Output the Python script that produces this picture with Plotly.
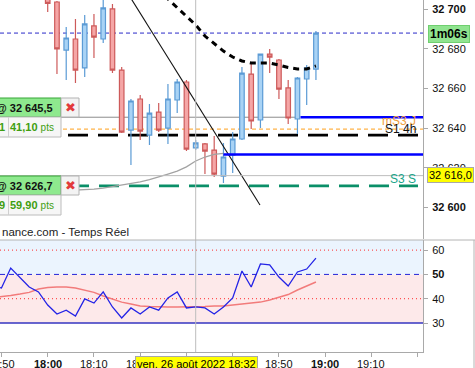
import plotly.graph_objects as go

W, H = 475, 368
def px(x): return x / W
def py(y): return 1 - y / H

# ---------------- data ----------------
candle_times = ["18:00", "18:02", "18:04", "18:06", "18:08", "18:10", "18:12", "18:14", "18:16", "18:18",
                "18:20", "18:22", "18:24", "18:26", "18:28", "18:30", "18:32", "18:34", "18:36", "18:38",
                "18:40", "18:42", "18:44", "18:46", "18:48", "18:50", "18:52", "18:54", "18:56", "18:58"]
opens  = [32708.0, 32703.7, 32679.4, 32685.0, 32670.4, 32691.6, 32685.0, 32700.2, 32669.3, 32639.0,
          32654.7, 32636.5, 32648.1, 32640.0, 32654.2, 32663.3, 32630.0, 32632.0, 32628.9, 32615.8,
          32626.4, 32634.5, 32667.3, 32644.1, 32677.4, 32674.4, 32660.3, 32644.6, 32664.8, 32669.8]
highs  = [32712.0, 32704.2, 32691.1, 32695.1, 32697.1, 32697.6, 32706.0, 32702.7, 32670.9, 32654.7,
          32656.7, 32652.2, 32652.7, 32662.3, 32664.8, 32664.3, 32634.0, 32632.5, 32636.0, 32632.5,
          32638.0, 32670.9, 32672.9, 32677.6, 32679.9, 32674.9, 32664.3, 32665.8, 32671.9, 32689.0]
lows   = [32698.6, 32667.3, 32664.3, 32662.8, 32665.8, 32675.4, 32683.0, 32667.8, 32637.5, 32621.4,
          32634.0, 32631.5, 32638.0, 32632.0, 32647.6, 32628.4, 32629.0, 32616.8, 32615.3, 32612.3,
          32617.3, 32634.0, 32639.5, 32640.0, 32667.8, 32654.7, 32642.1, 32637.0, 32651.7, 32664.3]
closes = [32703.0, 32680.0, 32685.5, 32669.3, 32692.6, 32686.0, 32700.7, 32669.3, 32638.0, 32653.7,
          32638.5, 32647.6, 32639.0, 32654.7, 32663.3, 32629.4, 32632.5, 32628.4, 32616.8, 32625.4,
          32634.5, 32667.8, 32643.6, 32677.4, 32675.9, 32659.7, 32645.1, 32665.3, 32670.4, 32688.0]

ma_times = ["18:20", "18:22", "18:24", "18:26", "18:28", "18:30", "18:32", "18:34", "18:36", "18:38",
            "18:40", "18:42", "18:44", "18:46", "18:48", "18:50", "18:52", "18:54", "18:56", "18:58"]
ma_values = [32718.0, 32713.5, 32709.2, 32705.2, 32700.7, 32696.4, 32692.1, 32686.5, 32682.5, 32678.9,
             32675.9, 32673.9, 32672.9, 32672.9, 32672.9, 32671.9, 32670.6, 32669.9, 32669.9, 32671.4]

band_times = ["18:00", "18:02", "18:04", "18:06", "18:08", "18:10", "18:12", "18:14", "18:16", "18:18",
              "18:20", "18:22", "18:24", "18:26", "18:28", "18:30", "18:32", "18:34", "18:36", "18:38"]
band_values = [32608.0, 32608.2, 32608.5, 32608.7, 32609.0, 32609.2, 32609.7, 32610.5, 32611.3, 32611.8,
               32612.8, 32614.0, 32615.3, 32616.8, 32618.3, 32620.4, 32623.4, 32625.4, 32626.7, 32627.2]

trend_times = ["18:16:00", "18:45:54"]
trend_values = [32713.0, 32601.2]

rsi_times = ["17:48", "17:50", "17:52", "17:54", "17:56", "17:58"] + candle_times
rsi_values = [45.6, 44.4, 52.6, 48.9, 44.8, 42.8, 37.4, 33.7, 35.3, 32.9, 39.9, 38.2, 42.8, 36.6, 32.1, 36.2,
              33.7, 36.6, 35.3, 40.3, 42.8, 36.2, 36.6, 36.2, 33.7, 36.6, 40.3, 51.4, 44.8, 54.3, 53.9,
              48.9, 45.2, 51.0, 52.2, 56.7]
rsi_ma = [40.5, 40.8, 41.3, 41.9, 42.6, 44.0, 44.6, 44.8, 44.8, 44.4, 43.6, 42.6, 41.1, 39.9, 38.6, 37.8,
          37.0, 36.8, 36.6, 36.6, 36.6, 36.6, 36.6, 36.8, 37.0, 37.0, 37.4, 37.8, 38.2, 38.6, 39.5,
          40.5, 41.7, 43.6, 45.2, 46.9]

LAST_PRICE = 32688.0
ORDER1 = 32645.5
ORDER2 = 32626.7
MS3_J = 32639.5
S1_4H = 32636.5
S3_S = 32610.8
CROSS_PRICE = 32616.0
CROSS_TIME = "18:32"
ORDER1_START = "18:54:40"
ORDER2_START = "18:38"

price_ticks = [32600, 32620, 32640, 32660, 32680, 32700]
price_labels = ["<b>32 600</b>", "32 620", "32 640", "32 660", "32 680", "<b>32 700</b>"]
rsi_ticks = [30, 40, 50, 60]
rsi_labels = ["30", "40", "<b>50</b>", "60"]
time_ticks = ["17:50", "18:00", "18:10", "18:20", "18:30", "18:40", "18:50", "19:00", "19:10", "19:20"]
time_labels = ["17:50", "<b>18:00</b>", "18:10", "18:20", "18:30", "18:40", "18:50", "<b>19:00</b>", "19:10", ""]

DAY = "2022-08-26 "
def T(s):
    return DAY + (s if s.count(":") == 2 else s + ":00")

X_RANGE = [T("17:49:41"), T("19:21:09")]
P_RANGE = [32584.0, 32704.7]
R_RANGE = [18.07, 64.16]
DOM_X = [0, 423 / W]
DOM_MAIN = [py(239), 1]
DOM_RSI = [py(352), py(240)]

FONT = "Liberation Sans, Arial, sans-serif"

fig = go.Figure()

fig.add_trace(go.Scatter(x=[T(t) for t in band_times], y=band_values, mode="lines",
                         line=dict(color="#a3a3a3", width=1.3), xaxis="x", yaxis="y", hoverinfo="skip"))
fig.add_trace(go.Candlestick(
    x=[T(t) for t in candle_times], open=opens, high=highs, low=lows, close=closes,
    increasing=dict(fillcolor="#a9d3f5", line=dict(color="#5b9bd5", width=1.2)),
    decreasing=dict(fillcolor="#f5a6a6", line=dict(color="#cd5a5a", width=1.2)),
    xaxis="x", yaxis="y", hoverinfo="skip"))
fig.add_trace(go.Scatter(x=[T(t) for t in ma_times], y=ma_values, mode="lines",
                         line=dict(color="#000000", width=3, dash="6px,5px"), xaxis="x", yaxis="y",
                         hoverinfo="skip"))
fig.add_trace(go.Scatter(x=[T(t) for t in trend_times], y=trend_values, mode="lines",
                         line=dict(color="#111111", width=1.1), xaxis="x", yaxis="y", hoverinfo="skip"))

fig.add_trace(go.Scatter(x=[T(t) for t in rsi_times], y=rsi_ma, mode="lines",
                         line=dict(color="#f27b7b", width=1.5), xaxis="x2", yaxis="y2", hoverinfo="skip"))
fig.add_trace(go.Scatter(x=[T(t) for t in rsi_times], y=rsi_values, mode="lines",
                         line=dict(color="#2323e6", width=1.3), xaxis="x2", yaxis="y2", hoverinfo="skip"))

shapes = []
# RSI panel backgrounds and levels
shapes += [
    dict(type="rect", xref="x2 domain", yref="y2", x0=0, x1=1, y0=50, y1=R_RANGE[1],
         fillcolor="#ebf4fe", line=dict(width=0), layer="below"),
    dict(type="rect", xref="x2 domain", yref="y2", x0=0, x1=1, y0=30, y1=50,
         fillcolor="#fde9ea", line=dict(width=0), layer="below"),
    dict(type="line", xref="x2 domain", yref="y2", x0=0, x1=1, y0=60, y1=60,
         line=dict(color="#ff2a2a", width=1, dash="1px,3px"), layer="below"),
    dict(type="line", xref="x2 domain", yref="y2", x0=0, x1=1, y0=40, y1=40,
         line=dict(color="#ff2a2a", width=1, dash="1px,3px"), layer="below"),
    dict(type="line", xref="x2 domain", yref="y2", x0=0, x1=1, y0=50, y1=50,
         line=dict(color="#2323d8", width=1, dash="5px,4px"), layer="below"),
    dict(type="line", xref="x2 domain", yref="y2", x0=0, x1=1, y0=30, y1=30,
         line=dict(color="#3434c0", width=1.3), layer="below"),
]
# main panel levels
shapes += [
    dict(type="line", xref="x domain", yref="y", x0=0, x1=1, y0=LAST_PRICE, y1=LAST_PRICE,
         line=dict(color="#2a2ac8", width=1, dash="4px,3px"), layer="below"),
    dict(type="line", xref="paper", yref="y", x0=0, x1=px(300), y0=ORDER1, y1=ORDER1,
         line=dict(color="#8c8c8c", width=1), layer="below"),
    dict(type="line", xref="paper", yref="y", x0=px(63), x1=px(423), y0=MS3_J, y1=MS3_J,
         line=dict(color="#ff9f1a", width=1, dash="4px,3px"), layer="below"),
    dict(type="line", xref="paper", yref="y", x0=px(68), x1=px(418), y0=S1_4H, y1=S1_4H,
         line=dict(color="#000000", width=2.8, dash="20px,10px"), layer="below"),
    dict(type="line", xref="paper", yref="y", x0=px(69), x1=px(418), y0=S3_S, y1=S3_S,
         line=dict(color="#0a8f68", width=2.8, dash="20px,10px"), layer="below"),
    dict(type="line", xref="x", yref="y", x0=T(ORDER1_START), x1=X_RANGE[1], y0=ORDER1, y1=ORDER1,
         line=dict(color="#0000ff", width=2.6), layer="above"),
    dict(type="line", xref="x", yref="y", x0=T(ORDER2_START), x1=X_RANGE[1], y0=ORDER2, y1=ORDER2,
         line=dict(color="#0000ff", width=2.6), layer="above"),
    # crosshair
    dict(type="line", xref="paper", yref="y", x0=0, x1=px(423), y0=CROSS_PRICE, y1=CROSS_PRICE,
         line=dict(color="#bdbdbd", width=1), layer="above"),
    dict(type="line", xref="x", yref="paper", x0=T(CROSS_TIME), x1=T(CROSS_TIME), y0=py(352), y1=1,
         line=dict(color="#bdbdbd", width=1), layer="above"),
    # panel separators
    dict(type="line", xref="paper", yref="paper", x0=0, x1=1, y0=py(240), y1=py(240),
         line=dict(color="#b4b4b4", width=1), layer="above"),
    dict(type="line", xref="paper", yref="paper", x0=px(474), x1=px(474), y0=0, y1=py(240),
         line=dict(color="#b4b4b4", width=1), layer="above"),
]

# order boxes (left)
def order_box(top, price_txt, qty_txt, pts_txt):
    g0, g1, r1 = top, top + 19, top + 39
    s = [
        dict(type="rect", xref="paper", yref="paper", x0=px(-3), x1=px(61), y0=py(g1), y1=py(g0),
             fillcolor="#8ee98e", line=dict(color="#36a636", width=1), layer="above"),
        dict(type="rect", xref="paper", yref="paper", x0=px(61), x1=px(79), y0=py(g1), y1=py(g0),
             fillcolor="#f3f3f3", line=dict(color="#b3b3b3", width=1), layer="above"),
        dict(type="rect", xref="paper", yref="paper", x0=px(-3), x1=px(61), y0=py(r1), y1=py(g1),
             fillcolor="#f6f6f6", line=dict(color="#bcbcbc", width=1), layer="above"),
        dict(type="line", xref="paper", yref="paper", x0=px(8.5), x1=px(8.5), y0=py(r1), y1=py(g1),
             line=dict(color="#cfcfcf", width=1), layer="above"),
    ]
    a = [
        dict(x=px(55), y=py((g0 + g1) / 2), xanchor="right", yanchor="middle", text="<b>" + price_txt + "</b>",
             font=dict(size=11, color="#111111", family=FONT)),
        dict(x=px(70), y=py((g0 + g1) / 2), xanchor="center", yanchor="middle", text="✖",
             font=dict(size=13, color="#e23a3a", family="DejaVu Sans")),
        dict(x=px(7), y=py((g1 + r1) / 2), xanchor="right", yanchor="middle", text="<b>" + qty_txt + "</b>",
             font=dict(size=11, color="#3e9e10", family=FONT)),
        dict(x=px(56), y=py((g1 + r1) / 2), xanchor="right", yanchor="middle",
             text="<b>" + pts_txt + "</b> <span style='font-size:10px'>pts</span>",
             font=dict(size=11, color="#3e9e10", family=FONT)),
    ]
    return s, a

annotations = []
for top, ptxt, q, p in [(98, "@ 32 645,5", "1", "41,10"), (176, "@ 32 626,7", "9", "59,90")]:
    s, a = order_box(top, ptxt, q, p)
    shapes += s
    annotations += a

# time-axis labels placed on the x2 scale
for t, lab in zip(time_ticks, time_labels):
    if lab:
        annotations.append(dict(x=T(t), xref="x2", y=py(357), yref="paper", xanchor="center",
                                yanchor="top", text=lab, borderpad=0,
                                font=dict(size=11, color="#111111", family=FONT)))

annotations += [
    dict(x=0, y=py(232), xanchor="left", yanchor="middle", text="nance.com - Temps Réel",
         font=dict(size=11.5, color="#222222", family=FONT)),
    dict(x=px(418), y=py(121), xanchor="right", yanchor="middle", text="mS3 J",
         font=dict(size=12, color="#f0a040", family=FONT)),
    dict(x=px(418), y=py(129), xanchor="right", yanchor="middle", text="S1 4h",
         font=dict(size=12, color="#111111", family=FONT)),
    dict(x=px(418), y=py(179), xanchor="right", yanchor="middle", text="S3 S",
         font=dict(size=12, color="#1aa58a", family=FONT)),
    dict(x=px(449), y=py(33.5), xanchor="center", yanchor="middle", text="<b>1m06s</b>",
         bgcolor="#90e490", bordercolor="#6fcf6f", borderwidth=1, borderpad=1,
         font=dict(size=12, color="#000000", family=FONT)),
    dict(x=px(450.5), y=py(174.5), xanchor="center", yanchor="middle", text="32 616,0",
         bgcolor="#ffff00", bordercolor="#a8a8a8", borderwidth=1, borderpad=1,
         font=dict(size=11, color="#000000", family=FONT)),
    dict(x=px(196.5), y=py(355.5), xanchor="center", yanchor="top", text="ven. 26 août 2022 18:32",
         bgcolor="#ffff00", bordercolor="#a8a8a8", borderwidth=1, borderpad=1,
         font=dict(size=11, color="#000000", family=FONT)),
]
for a in annotations:
    a.setdefault("showarrow", False)
    a.setdefault("xref", "paper")
    a.setdefault("yref", "paper")

axis_common = dict(showgrid=False, zeroline=False, linecolor="#a9a9a9", tickcolor="#a9a9a9",
                   automargin=False, tickfont=dict(size=11, color="#111111", family=FONT))

fig.update_layout(
    width=W, height=H, margin=dict(l=0, r=0, t=0, b=0, autoexpand=False),
    paper_bgcolor="white", plot_bgcolor="white", showlegend=False,
    font=dict(family=FONT),
    xaxis=dict(domain=DOM_X, anchor="y", range=X_RANGE, type="date", showticklabels=False,
               showline=False, ticks="", rangeslider=dict(visible=False), showgrid=False, zeroline=False,
               automargin=False),
    xaxis2=dict(domain=DOM_X, anchor="y2", range=X_RANGE, type="date", matches="x",
                tickvals=[T(t) for t in time_ticks], showticklabels=False,
                ticks="outside", ticklen=4, showline=True, **axis_common),
    yaxis=dict(domain=DOM_MAIN, anchor="x", side="right", range=P_RANGE,
               tickvals=price_ticks, ticktext=price_labels, ticks="outside", ticklen=4,
               ticklabelstandoff=2, showline=True, **axis_common),
    yaxis2=dict(domain=DOM_RSI, anchor="x2", side="right", range=R_RANGE,
                tickvals=rsi_ticks, ticktext=rsi_labels, ticks="outside", ticklen=4,
                ticklabelstandoff=2, showline=True, **axis_common),
    shapes=shapes, annotations=annotations,
)

fig.write_html("out.html", config={"displayModeBar": False},
               post_script="document.body.style.margin='0';document.body.style.overflow='hidden';")
